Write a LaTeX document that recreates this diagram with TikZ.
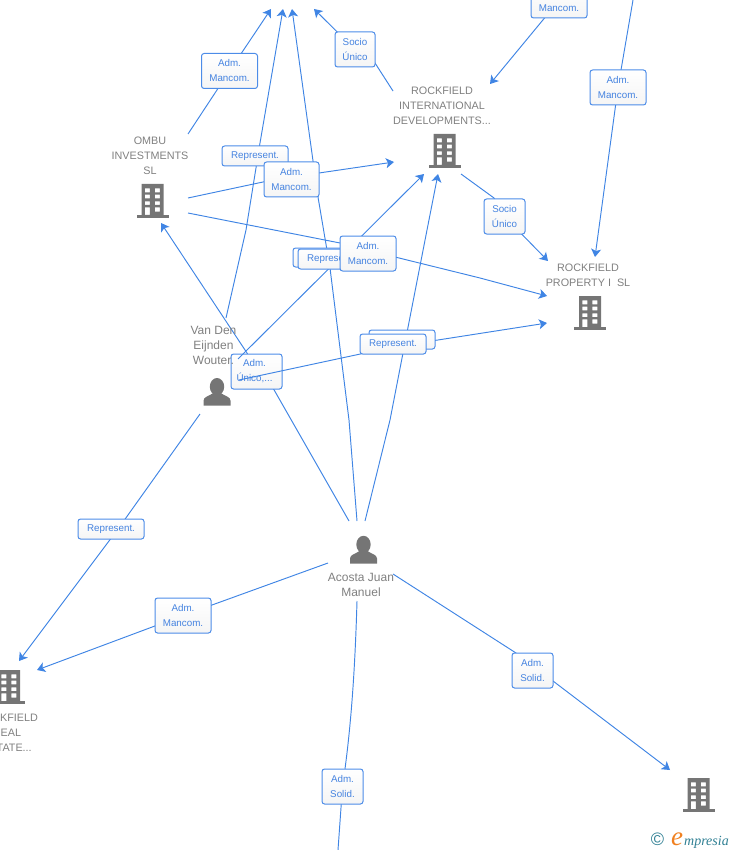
\documentclass[tikz,border=0pt]{standalone}
\usepackage{fontspec}
\setmainfont{Liberation Sans}
\newfontfamily\logofont{Liberation Serif}
\usetikzlibrary{arrows.meta,calc}
\definecolor{edgeblue}{HTML}{4085E4}
\definecolor{borderblue}{HTML}{4C8CE8}
\definecolor{labelblue}{HTML}{4583E0}
\definecolor{entgray}{HTML}{808080}
\definecolor{icongray}{HTML}{757575}
\definecolor{logoteal}{HTML}{2F7F93}
\definecolor{logoorange}{HTML}{F08020}
\pgfdeclarelayer{lowedges}
\pgfdeclarelayer{unicolayer}
\pgfdeclarelayer{midedges}
\pgfsetlayers{lowedges,unicolayer,midedges,main}
\tikzset{
  link/.style={draw=edgeblue,line width=0.95pt,line join=round},
  arrowlink/.style={link,-{Stealth[length=8pt,width=10pt,inset=2pt]}},
  tagbox/.style={draw=borderblue,line width=1pt,rounded corners=2.6pt,top color=white,bottom color=black!4,
    text=labelblue,inner sep=0pt,align=center,minimum height=35pt,
    execute at begin node={\vspace*{2pt}},
    font=\fontsize{9.8}{15}\selectfont},
  tagwide/.style={tagbox,minimum width=66pt,minimum height=20pt},
  tagmid/.style={tagbox,minimum width=56pt},
  tagnarrow/.style={tagbox,minimum width=41pt},
  entname/.style={text=entgray,align=center,inner sep=0pt,font=\fontsize{10.8}{15}\selectfont},
  personname/.style={text=entgray,align=center,inner sep=0pt,font=\fontsize{12}{15}\selectfont},
  bldg/.pic={
    \fill[icongray,even odd rule] (-11,0) rectangle (11,31)
      (-7.7,4.3) rectangle (-2.7,8.3) (2.3,4.3) rectangle (7.3,8.3)
      (-7.7,10.7) rectangle (-2.7,14.3) (2.3,10.7) rectangle (7.3,14.3)
      (-7.7,17.3) rectangle (-2.7,21) (2.3,17.3) rectangle (7.3,21)
      (-7.7,23.3) rectangle (-2.7,31) (2.3,23.3) rectangle (7.3,27.7);
    \fill[icongray] (-16,31) rectangle (16,34);
  },
  personicon/.pic={
    \fill[icongray] (0,0) ellipse[x radius=7.2,y radius=8.7];
    \fill[icongray] (-13.5,19) -- (-13.5,14) .. controls (-13.5,10) and (-8,9.5) .. (-4,6.5)
      -- (4,6.5) .. controls (8,9.5) and (13.5,10) .. (13.5,14) -- (13.5,19) -- cycle;
  }
}
\begin{document}
\begin{tikzpicture}[x=1pt,y=-1pt]
\useasboundingbox (0,0) rectangle (728,850);
% entities
\node[entname] (ombu) at (150,155.5) {OMBU\\INVESTMENTS\\SL};
\pic at (152.5,184) {bldg};
\node[entname] (intl) at (442,105.5) {ROCKFIELD\\INTERNATIONAL\\DEVELOPMENTS...};
\pic at (444.5,134) {bldg};
\node[entname] (prop) at (588,275) {ROCKFIELD\\PROPERTY I\ \ SL};
\pic at (590,296) {bldg};
\node[entname] (estate) at (7,732.5) {ROCKFIELD\\REAL\\ESTATE...};
\pic at (9,670) {bldg};
\pic at (698.5,778) {bldg};
\node[personname] (vanden) at (213.5,345.5) {Van Den\\Eijnden\\Wouter.};
\pic at (217,386.7) {personicon};
\node[personname] (acosta) at (361,585) {Acosta Juan\\Manuel};
\pic at (363.5,544.5) {personicon};
% free ends
\coordinate (ombuA) at (188,134);
\coordinate (ombuB) at (188,198);
\coordinate (ombuC) at (188,213);
\coordinate (ombuIn) at (161,223);
\coordinate (topA) at (271,9);
\coordinate (topB) at (283,9);
\coordinate (topC) at (292,9);
\coordinate (topD) at (314,9);
\coordinate (intlOut) at (393,91);
\coordinate (intlBend) at (375,63);
\coordinate (intlIn) at (490,84);
\coordinate (intlL) at (394,162);
\coordinate (intlM) at (424,174);
\coordinate (intlN) at (438,174);
\coordinate (intlR) at (461,174);
\coordinate (intlRBend) at (494,198);
\coordinate (rightTop) at (633,0);
\coordinate (propTop) at (595,257);
\coordinate (propA) at (548,261);
\coordinate (propB) at (547,296);
\coordinate (propC) at (547,323);
\coordinate (vanUp) at (226,318);
\coordinate (vanA) at (238,359);
\coordinate (vanB) at (239,380);
\coordinate (vanC) at (200,414);
\coordinate (acoA) at (349,521);
\coordinate (acoB) at (357,521);
\coordinate (acoC) at (365,521);
\coordinate (acoD) at (328,563);
\coordinate (acoE) at (357,601);
\coordinate (acoF) at (393,574);
\coordinate (estA) at (19,661);
\coordinate (estB) at (37,670);
\coordinate (bottomEnd) at (338,850);
\coordinate (brEnd) at (670,770);
\coordinate (repBend) at (393,347);
% bends that keep each connector on the reference's slightly curved course
\coordinate (bendUnicoLow) at (273,388);
\coordinate (bendUnicoHigh) at (247,353);
\coordinate (bendUpA) at (246,230);
\coordinate (bendUpB) at (260,143);
\coordinate (bendAcoA) at (349,420);
\coordinate (bendAcoB) at (330,268);
\coordinate (bendAcoC) at (318,197);
\coordinate (bendRepA) at (390,420);
\coordinate (bendRepB) at (403,353);
\coordinate (bendRepC) at (427,230);
\coordinate (bendJA) at (340,243);
\coordinate (bendJB) at (395,257);
\coordinate (bendJC) at (480,278);
\coordinate (bendFA) at (263,182);
\coordinate (bendFB) at (319,173);
\coordinate (bendSolA) at (516,653);
\coordinate (bendSolB) at (553,681);
% labels
\begin{pgfonlayer}{unicolayer}
\node[tagbox,minimum width=51pt] (tagUnico) at (256.5,371.5) {\hspace*{-4pt}Adm.\\\hspace*{-4pt}Único,...};
\end{pgfonlayer}
\node[tagmid] (tagA) at (229.5,71) {Adm.\\Mancom.};
\node[tagnarrow,minimum width=40pt] (tagB) at (355,49.5) {Socio\\Único};
\node[tagmid] (tagC) at (559,0.5) {Adm.\\Mancom.};
\node[tagmid] (tagD) at (618,87.5) {Adm.\\Mancom.};
\node[tagwide] (tagE) at (255,156) {Represent.};
\node[tagmid,minimum width=55pt] (tagF) at (291.5,179.5) {Adm.\\Mancom.};
\node[tagnarrow] (tagG) at (504.5,216.5) {Socio\\Único};
\node[tagwide,minimum height=19pt] (tagH) at (326,257.5) {};
\node[tagwide] (tagI) at (331,259) {Represent.};
\node[tagmid] (tagJ) at (368,253.5) {Adm.\\Mancom.};
\node[tagwide,minimum height=19pt] (tagK) at (402,339.5) {};
\node[tagwide] (tagL) at (393,344) {Represent.};
\node[tagwide] (tagM) at (111,529) {Represent.};
\node[tagmid] (tagN) at (183,615.5) {Adm.\\Mancom.};
\node[tagnarrow] (tagO) at (532.5,670.5) {Adm.\\Solid.};
\node[tagnarrow] (tagP) at (342.5,786.5) {Adm.\\Solid.};
\coordinate (bendM) at (118,529);
% connectors
\begin{pgfonlayer}{lowedges}
\draw[arrowlink] (acoA) -- (bendUnicoLow) -- (tagUnico.center) -- (bendUnicoHigh) -- (ombuIn);
\end{pgfonlayer}
\begin{pgfonlayer}{midedges}
\draw[arrowlink] (ombuA) -- (tagA.center) -- (topA);
\draw[arrowlink] (vanUp) -- (bendUpA) -- (bendUpB) -- (topB);
\draw[arrowlink] (acoB) -- (bendAcoA) -- (bendAcoB) -- (bendAcoC) -- (topC);
\draw[arrowlink] (intlOut) -- (intlBend) -- (tagB.center) -- (topD);
\draw[arrowlink] (tagC.center) -- (intlIn);
\draw[arrowlink] (rightTop) -- (tagD.center) -- (propTop);
\draw[arrowlink] (intlR) -- (intlRBend) -- (tagG.center) -- (propA);
\draw[arrowlink] (ombuB) -- (bendFA) -- (bendFB) -- (intlL);
\draw[arrowlink] (ombuC) -- (bendJA) -- (bendJB) -- (bendJC) -- (propB);
\draw[arrowlink] (vanA) -- (intlM);
\draw[arrowlink] (acoC) -- (bendRepA) -- (bendRepB) -- (bendRepC) -- (intlN);
\draw[arrowlink] (vanB) -- (repBend) -- (propC);
\draw[arrowlink] (vanC) -- (bendM) -- (estA);
\draw[arrowlink] (acoD) -- (tagN.center) -- (estB);
\draw[link] (acoE) .. controls (355,670) and (351,730) .. (tagP.center) -- (bottomEnd);
\draw[arrowlink] (acoF) -- (bendSolA) -- (tagO.center) -- (bendSolB) -- (brEnd);
\end{pgfonlayer}
% logo
\node[text=logoteal,inner sep=0pt,font=\fontsize{18}{18}\selectfont] (logoC) at (657.5,839.5) {©};
\node[anchor=base west,text=logoorange,inner sep=0pt,font=\logofont\fontsize{27}{27}\selectfont\itshape] (logoE) at (671,845) {e};
\node[anchor=base west,text=logoteal,inner sep=0pt,font=\logofont\fontsize{14}{14}\selectfont\itshape] (logoT) at (684,845) {mpresia};
\end{tikzpicture}
\end{document}
